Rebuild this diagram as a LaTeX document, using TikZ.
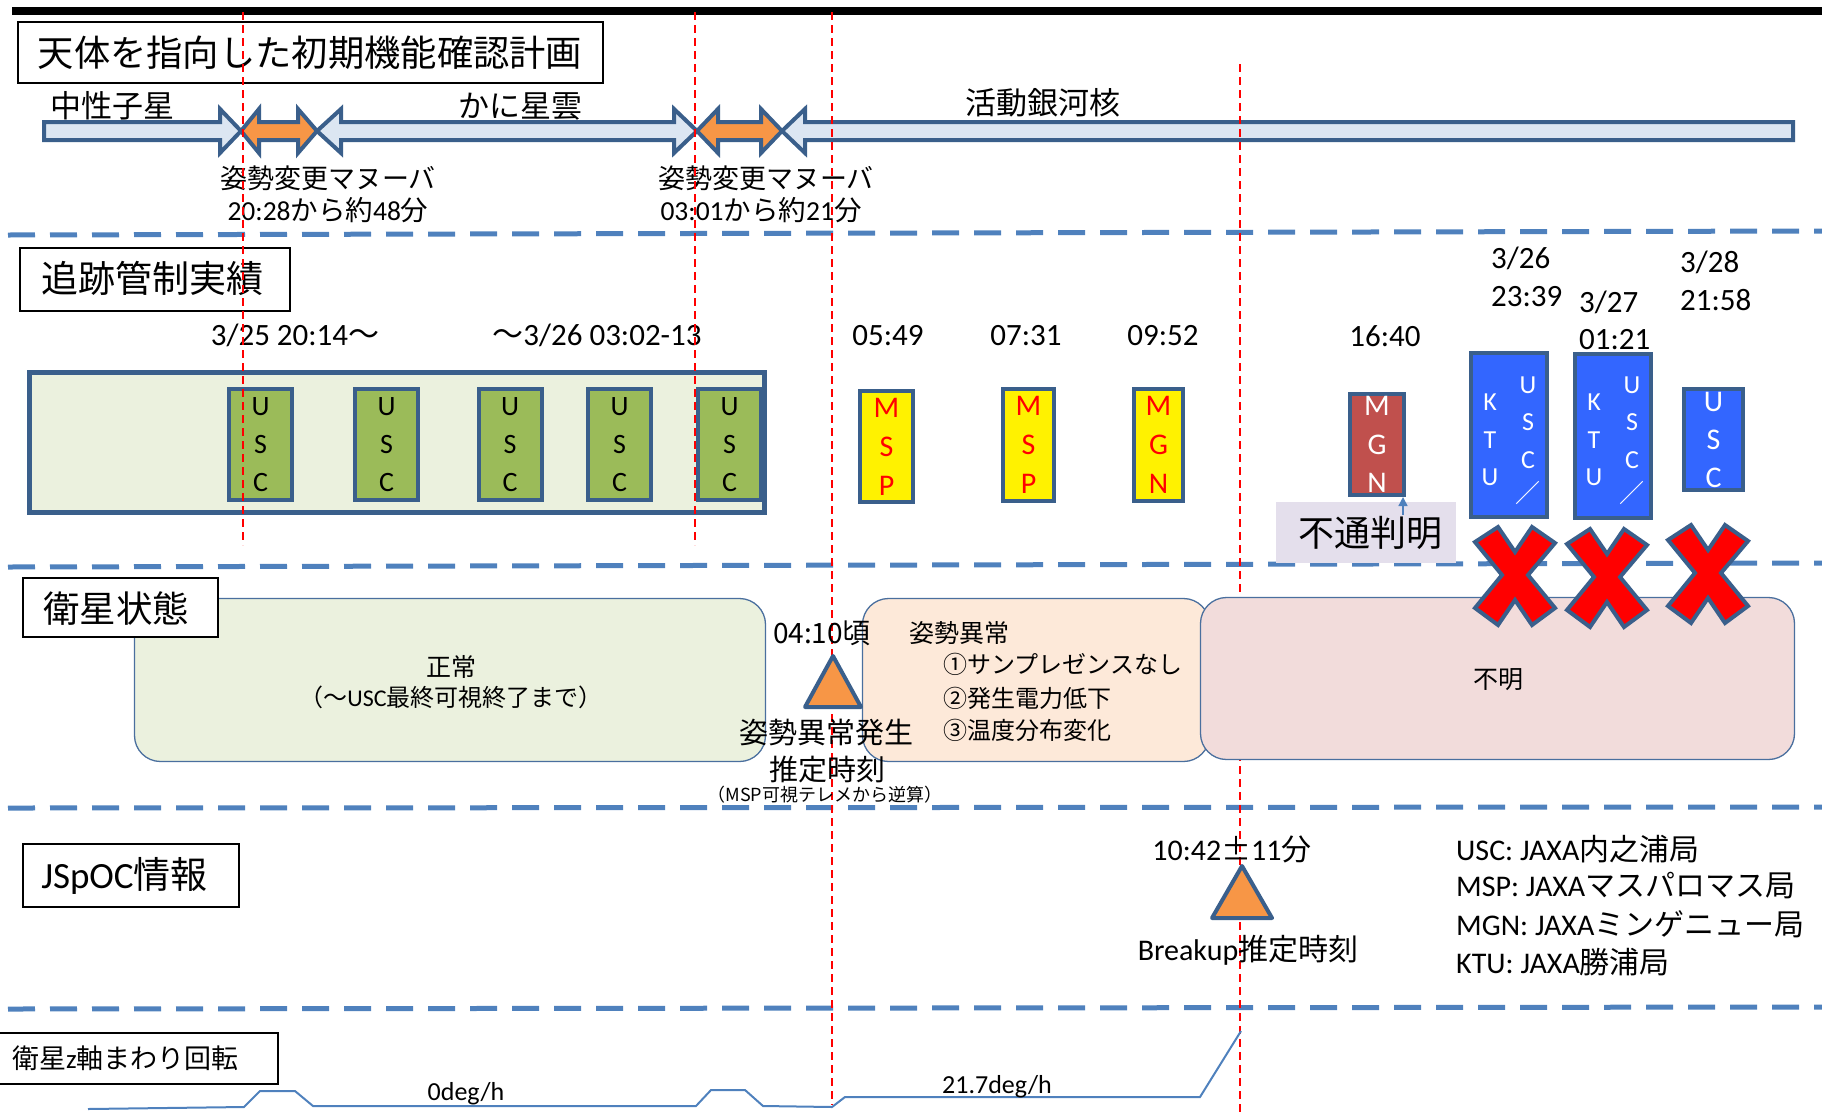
\documentclass[tikz,border=0pt]{standalone}
\usepackage{fontspec}
\setmainfont{Carlito}
\newfontfamily\jp{Noto Sans CJK JP}
\newcommand\J[1]{{\jp #1}}
\newcommand\fs[1]{\fontsize{#1}{#1}\selectfont}
\newcommand\fsl[2]{\fontsize{#1}{#2}\selectfont}
\usetikzlibrary{arrows.meta}
\definecolor{dkb}{HTML}{3A5F8B}
\definecolor{sepb}{HTML}{4F81BD}
\definecolor{ltb}{HTML}{DCE6F2}
\definecolor{org}{HTML}{F79646}
\definecolor{grn}{HTML}{9BBB59}
\definecolor{pale}{HTML}{EBF1DE}
\definecolor{peach}{HTML}{FDE9D9}
\definecolor{pinkb}{HTML}{F2DCDB}
\definecolor{lav}{HTML}{E4DFEC}
\definecolor{redb}{HTML}{C0504D}
\definecolor{blu}{HTML}{3366FF}
\definecolor{stb}{HTML}{4A6F9E}
\begin{document}
\begin{tikzpicture}[x=1pt,y=-1pt,
  sepline/.style={draw=sepb, line width=5pt, dash pattern=on 27pt off 15pt},
  vred/.style={draw=red, line width=2pt, dash pattern=on 8pt off 5pt},
  hdr/.style={draw=black, line width=2pt, inner sep=0pt},
  shp/.style={draw=dkb, line width=4pt, fill=ltb, line join=miter},
  oshp/.style={shp, fill=org},
  stn/.style={draw=dkb, line width=4pt, inner sep=0pt},
  t/.style={inner sep=0pt},
  tc/.style={inner sep=0pt, align=center},
  st/.style={draw=stb, line width=1.3pt, rounded corners=26pt, inner sep=0pt},
  tri/.style={draw=dkb, line width=4pt, fill=org, line join=round},
  xm/.style={draw=dkb, line width=4pt, fill=red, line join=miter},
  flow/.style={draw=sepb, line width=2pt},
]
\useasboundingbox (0,0) rectangle (1822,1114);

% ---------- top bar and separators ----------
\coordinate (bar0) at (12,11); \coordinate (bar1) at (1822,11);
\draw[line width=8pt] (bar0) -- (bar1);
\coordinate (s1a) at (8,235); \coordinate (s1b) at (1822,231);
\coordinate (s2a) at (8,567); \coordinate (s2b) at (1822,563);
\coordinate (s3a) at (8,808); \coordinate (s3b) at (1822,807);
\coordinate (s4a) at (8,1009); \coordinate (s4b) at (1822,1007);
\draw[sepline] (s1a) -- (s1b);
\draw[sepline] (s2a) -- (s2b);
\draw[sepline] (s3a) -- (s3b);
\draw[sepline] (s4a) -- (s4b);

% ---------- section headers ----------
\node[hdr, minimum width=585pt, minimum height=61pt] (title) at (310.5,52.5) {};
\node[t, font={\fs{36.3}\jp}] (titletxt) at (310,52.5) {天体を指向した初期機能確認計画};
\node[hdr, minimum width=270pt, minimum height=63pt] (trkhdr) at (155,279.5) {};
\node[t, font={\fs{37}\jp}] (trkhdrtxt) at (152,278.5) {追跡管制実績};
\node[hdr, minimum width=216pt, minimum height=63pt] (jsphdr) at (131,875.5) {};
\node[t, font=\fs{37}] (jsphdrtxt) at (124.5,875.5) {JSpOC\J{情報}};
\node[hdr, minimum width=281pt, minimum height=51pt] (rothdr) at (137.5,1058.5) {};
\node[t, font=\fs{27}, anchor=west] (rothdrtxt) at (12,1058) {\J{衛星}z\J{軸まわり回転}};

% ---------- row 1: observation plan arrows ----------
\draw[shp] (44,122) -- (220,122) -- (220,109) -- (241,131) -- (220,153) -- (220,140) -- (44,140) -- cycle;
\draw[oshp] (241,131) -- (259,109) -- (259,122) -- (298,122) -- (298,109) -- (317,131) -- (298,153) -- (298,140) -- (259,140) -- (259,153) -- cycle;
\draw[shp] (317,131) -- (341,109) -- (341,122) -- (674,122) -- (674,109) -- (697,131) -- (674,153) -- (674,140) -- (341,140) -- (341,153) -- cycle;
\draw[oshp] (697,131) -- (718,109) -- (718,122) -- (761,122) -- (761,109) -- (782,131) -- (761,153) -- (761,140) -- (718,140) -- (718,153) -- cycle;
\draw[shp] (782,131) -- (805,109) -- (805,122) -- (1793,122) -- (1793,140) -- (805,140) -- (805,153) -- cycle;

\node[t, font={\fs{31}\jp}] (ns) at (112,106) {中性子星};
\node[t, font={\fs{31}\jp}] (crab) at (520,106) {かに星雲};
\node[t, font={\fs{31}\jp}] (agn) at (1043,103) {活動銀河核};
\node[t, font={\fs{27}\jp}] (man1) at (328,178) {姿勢変更マヌーバ};
\node[t, font=\fs{27.5}] (man1t) at (328,210) {20:28\J{から約}48\J{分}};
\node[t, font={\fs{27}\jp}] (man2) at (766,178) {姿勢変更マヌーバ};
\node[t, font=\fs{27.5}] (man2t) at (761,210) {03:01\J{から約}21\J{分}};

% ---------- row 2: tracking ----------
\node[stn, line width=5pt, fill=pale, minimum width=735pt, minimum height=140pt] (trk) at (397,442.5) {};
\foreach \i/\x in {1/260.5,2/386.5,3/510,4/619.5,5/729.5}{
  \node[stn, fill=grn, minimum width=63pt, minimum height=111pt, align=center,
        font=\fsl{28}{38}] (usc\i) at (\x,444.5) {U\\S\\C};
}
\node[stn, fill=yellow, minimum width=53pt, minimum height=111pt, align=center,
      text=red, font=\fsl{30}{39}] (msp1) at (886.5,446.5) {M\\S\\P};
\node[stn, fill=yellow, minimum width=51pt, minimum height=112pt, align=center,
      text=red, font=\fsl{30}{39}] (msp2) at (1028.5,445) {M\\S\\P};
\node[stn, fill=yellow, minimum width=49pt, minimum height=112pt, align=center,
      text=red, font=\fsl{30}{39}] (mgn1) at (1158.5,445) {M\\G\\N};
\node[stn, fill=redb, minimum width=54pt, minimum height=101pt, align=center,
      text=white, font=\fsl{30}{38.5}] (mgn2) at (1377,444.5) {M\\G\\N};
\node[stn, fill=blu, minimum width=76pt, minimum height=164pt] (kb1) at (1509,435) {};
\node[stn, fill=blu, minimum width=76pt, minimum height=164pt] (kb2) at (1613,436) {};
\node[stn, fill=blu, minimum width=59pt, minimum height=101pt, align=center,
      text=white, font=\fsl{30}{38}] (ub3) at (1713.5,439.5) {U\\S\\C};
\node[tc, text=white, font=\fsl{26}{37.5}] (kb1k) at (1490,440) {K\\T\\U};
\node[tc, text=white, font=\fsl{26}{37.5}] (kb1u) at (1528,422.5) {U\\S\\C};
\node[t, text=white, font={\fs{25}\jp}] (kb1s) at (1528,493) {／};
\node[tc, text=white, font=\fsl{26}{37.5}] (kb2k) at (1594,440) {K\\T\\U};
\node[tc, text=white, font=\fsl{26}{37.5}] (kb2u) at (1632,422.5) {U\\S\\C};
\node[t, text=white, font={\fs{25}\jp}] (kb2s) at (1632,493) {／};

\node[t, fill=lav, minimum width=180pt, minimum height=61pt] (futsu) at (1366,532.5) {};
\node[t, font={\fs{36}\jp}] (futsutxt) at (1370,533) {不通判明};
\coordinate (fa) at (1403,515);
\draw[sepb, line width=1.5pt, -{Triangle[width=9pt,length=9pt]}] (fa) -- (fa |- mgn2.south);

\node[t, font=\fs{31}] (d1) at (295,335) {3/25 20:14\J{～}};
\node[t, font=\fs{31}] (d2) at (597,335) {\J{～}3/26 03:02-13};
\node[t, font=\fs{31}] (d3) at (888,336) {05:49};
\node[t, font=\fs{31}] (d4) at (1026,336) {07:31};
\node[t, font=\fs{31}] (d5) at (1163,336) {09:52};
\node[t, font=\fs{31}] (d6) at (1385,336) {16:40};
\node[t, font=\fs{31}, anchor=west] (d7a) at (1491,258) {3/26};
\node[t, font=\fs{31}, anchor=west] (d7b) at (1491,297) {23:39};
\node[t, font=\fs{31}, anchor=west] (d8a) at (1579,302) {3/27};
\node[t, font=\fs{31}, anchor=west] (d8b) at (1579,340) {01:21};
\node[t, font=\fs{31}, anchor=west] (d9a) at (1680,262) {3/28};
\node[t, font=\fs{31}, anchor=west] (d9b) at (1680,300) {21:58};

% ---------- red dashed time markers ----------
\coordinate (r1a) at (243,12);  \coordinate (r1b) at (243,545);
\coordinate (r2a) at (695,12);  \coordinate (r2b) at (695,545);
\coordinate (r3a) at (832,12);  \coordinate (r3b) at (832,1105);
\coordinate (r4a) at (1240,64); \coordinate (r4b) at (1240,1114);
\draw[vred] (r1a) -- (r1b);
\draw[vred] (r2a) -- (r2b);
\draw[vred] (r3a) -- (r3b);
\draw[vred] (r4a) -- (r4b);

% ---------- row 3: satellite state ----------
\node[st, fill=pale, minimum width=631pt, minimum height=163pt] (normal) at (450,680) {};
\node[st, fill=peach, minimum width=347pt, minimum height=163pt] (anom) at (1036,680) {};
\node[st, fill=pinkb, minimum width=594pt, minimum height=162pt] (unk) at (1497.5,678.5) {};
\node[hdr, fill=white, minimum width=195pt, minimum height=59pt] (sathdr) at (120.5,607.5) {};
\node[t, font={\fs{36.5}\jp}] (sathdrtxt) at (116,609) {衛星状態};
\node[t, font={\fs{25}\jp}] (normt1) at (451,667) {正常};
\node[t, font=\fs{24}] (normt2) at (451,697) {\J{（～}USC\J{最終可視終了まで）}};
\node[t, font={\fs{25}\jp}, anchor=west] (anomt0) at (909,633) {姿勢異常};
\node[t, font={\fs{24}\jp}, anchor=west] (anomt1) at (943,664) {①サンプレゼンスなし};
\node[t, font={\fs{24}\jp}, anchor=west] (anomt2) at (943,698) {②発生電力低下};
\node[t, font={\fs{24}\jp}, anchor=west] (anomt3) at (943,730) {③温度分布変化};
\node[t, font={\fs{25}\jp}] (unkt) at (1498,680) {不明};

\draw[tri] (833,656) -- (861,707) -- (805,707) -- cycle;
\node[t, font={\fs{28}\jp}] (t410) at (822,633) {04:10頃};
\node[t, font={\fs{29}\jp}] (t410a) at (826,733) {姿勢異常発生};
\node[t, font={\fs{29}\jp}] (t410b) at (827,770) {推定時刻};
\node[t, font={\fs{18}\jp}] (t410c) at (825,795) {（MSP可視テレメから逆算）};

% red crosses
\foreach \cx/\cy in {1515/575, 1607/577, 1708/573}{
  \draw[xm, shift={(\cx,\cy)}] (-40,-33) -- (-17,-48) -- (0,-23) -- (17,-48) -- (40,-32) -- (13,0)
     -- (40,33) -- (17,50) -- (0,25) -- (-17,50) -- (-40,33) -- (-13,0) -- cycle;
}

% ---------- row 4: JSpOC ----------
\draw[tri] (1242,866) -- (1272,918) -- (1212,918) -- cycle;
\node[t, font=\fs{30}] (bt) at (1232,849) {10:42\J{±}11\J{分}};
\node[t, font=\fs{30}] (bl) at (1248,950) {Breakup\J{推定時刻}};
\node[t, font=\fs{30}, anchor=west] (lg1) at (1456,849) {USC: JAXA\J{内之浦局}};
\node[t, font=\fs{30}, anchor=west] (lg2) at (1456,886) {MSP: JAXA\J{マスパロマス局}};
\node[t, font=\fs{30}, anchor=west] (lg3) at (1456,924) {MGN: JAXA\J{ミンゲニュー局}};
\node[t, font=\fs{30}, anchor=west] (lg4) at (1456,962) {KTU: JAXA\J{勝浦局}};

% ---------- row 5: rotation ----------
\draw[flow] (88,1109) -- (244,1107) -- (260,1091) -- (295,1091) -- (313,1106) -- (696,1106)
  -- (711,1090) -- (745,1090) -- (763,1106) -- (832,1107) -- (845,1097) -- (1200,1097) -- (1241,1031);
\node[t, font=\fs{26}] (r0) at (466,1094) {0deg/h};
\node[t, font=\fs{26}] (r21) at (997,1087) {21.7deg/h};
\end{tikzpicture}
\end{document}
